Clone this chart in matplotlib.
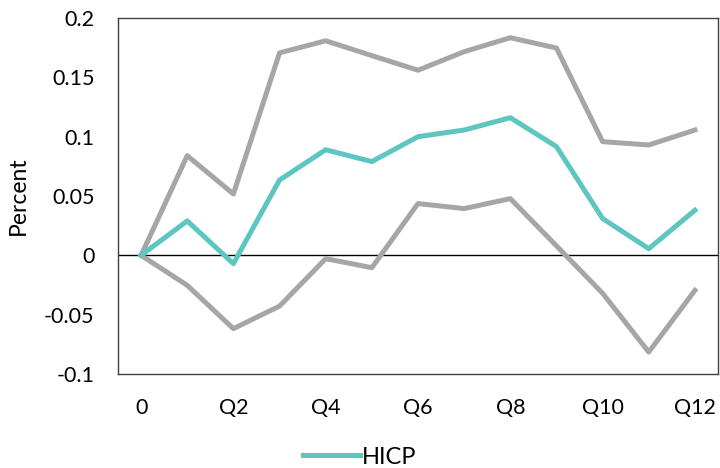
import matplotlib.pyplot as plt

plt.rcParams['font.family'] = ['Lato', 'DejaVu Sans']

# horizon labels, 0..12 quarters
quarters = ['0'] + ['Q%d' % i for i in range(1, 13)]

hicp = [0, 0.029, -0.007, 0.0635, 0.089, 0.079, 0.100, 0.1056, 0.116, 0.0916, 0.031, 0.0056, 0.038]
upper = [0, 0.084, 0.0517, 0.1706, 0.1808, 0.1683, 0.156, 0.1716, 0.1834, 0.1747, 0.0958, 0.093, 0.1056]
lower = [0, -0.0253, -0.0618, -0.0428, -0.0028, -0.0104, 0.0436, 0.0394, 0.0478, 0.008, -0.032, -0.0815, -0.0295]

teal = '#5EC6C1'
grey = '#A6A6A6'

fig = plt.figure(figsize=(7.2, 4.68), dpi=100)
ax = fig.add_axes([118 / 720, 1 - 374 / 468, 600 / 720, 356 / 468])

x = list(range(len(quarters)))
ax.axhline(0, color='black', lw=1, zorder=1)
ax.plot(x, upper, color=grey, lw=3.6, zorder=2)
ax.plot(x, lower, color=grey, lw=3.6, zorder=2)
ax.plot(x, hicp, color=teal, lw=3.6, zorder=3, label='HICP')

ax.set_xlim(-0.5, len(quarters) - 0.5)
ax.set_ylim(-0.1, 0.2)
ax.set_xticks(x[::2])
ax.set_xticklabels(quarters[::2])
ax.set_yticks([-0.1, -0.05, 0, 0.05, 0.1, 0.15, 0.2])
ax.set_yticklabels(['-0.1', '-0.05', '0', '0.05', '0.1', '0.15', '0.2'])
ax.tick_params(length=0, labelsize=15.5, colors='black')
ax.tick_params(axis='y', pad=17)
ax.tick_params(axis='x', pad=17)
for s in ax.spines.values():
    s.set_color('#404040')
    s.set_linewidth(1)

ax.set_ylabel('Percent', fontsize=16.5)
ax.yaxis.set_label_coords(-0.148, 0.5)

fig.legend(loc='center', bbox_to_anchor=(0.5, 1 - 457 / 468), frameon=False,
           fontsize=17, handlelength=2.4, handletextpad=0.1)

fig.savefig('out.png', dpi=100)
